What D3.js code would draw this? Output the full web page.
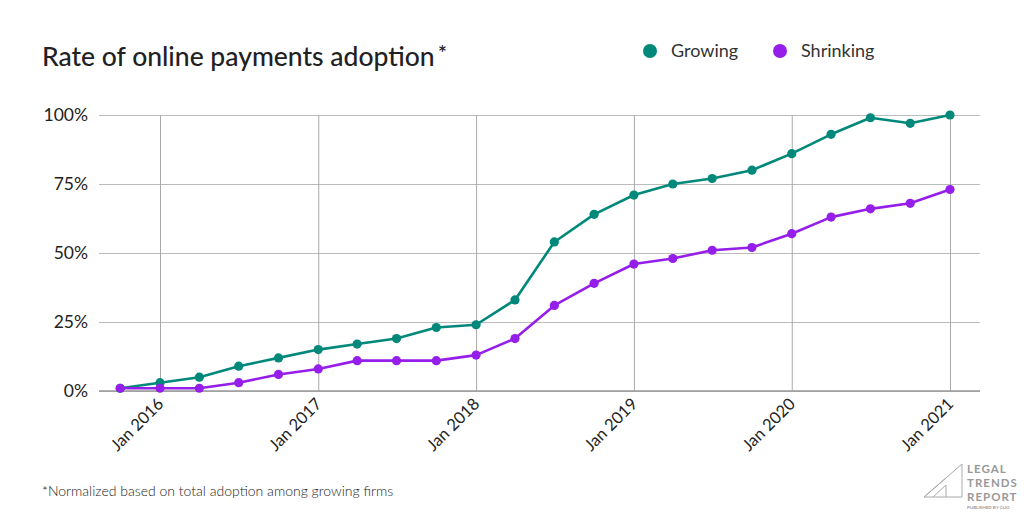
<!DOCTYPE html>
<html>
<head>
<meta charset="utf-8">
<script src="https://cdn.jsdelivr.net/npm/d3@7"></script>
<style>
  body { margin: 0; background: #fff; }
  text { font-family: Lato, "Open Sans", sans-serif; }
</style>
</head>
<body>
<script>
// quarterly data points
const periods = [
  "2015-10", "2016-01", "2016-04", "2016-07", "2016-10",
  "2017-01", "2017-04", "2017-07", "2017-10",
  "2018-01", "2018-04", "2018-07", "2018-10",
  "2019-01", "2019-04", "2019-07", "2019-10",
  "2020-01", "2020-04", "2020-07", "2020-10",
  "2021-01"
];
const growing = [1, 3, 5, 9, 12, 15, 17, 19, 23, 24, 33, 54, 64, 71, 75, 77, 80, 86, 93, 99, 97, 100];
const shrinking = [1, 1, 1, 3, 6, 8, 11, 11, 11, 13, 19, 31, 39, 46, 48, 51, 52, 57, 63, 66, 68, 73];
const yTicks = [0, 25, 50, 75, 100];
const xTickYears = [2016, 2017, 2018, 2019, 2020, 2021];

const w = 1024;
const h = 512;
const plotLeft = 99, plotRight = 980, plotTop = 115, plotBottom = 391;
const green = "#00897a";
const purple = "#951eea";

const parse = d3.timeParse("%Y-%m");
const dates = periods.map(parse);

const xScale = d3
  .scaleTime()
  .domain([new Date(2016, 0, 1), new Date(2021, 0, 1)])
  .range([160, 950]);

const yScale = d3.scaleLinear().domain([0, 100]).range([plotBottom, plotTop]);

const svg = d3
  .select("body")
  .append("svg")
  .attr("width", w)
  .attr("height", h);

// title
const title = svg.append("text")
  .attr("x", 42).attr("y", 66)
  .attr("font-size", 26.5).attr("font-weight", 500)
  .attr("fill", "#1f2124")
  .text("Rate of online payments adoption");
title.append("tspan")
  .attr("dx", 3).attr("dy", -5)
  .attr("font-size", 22)
  .text("*");

// legend
const legend = [
  { name: "Growing", color: green, x: 650 },
  { name: "Shrinking", color: purple, x: 780 }
];
legend.forEach((l) => {
  svg.append("circle").attr("cx", l.x).attr("cy", 51).attr("r", 7).attr("fill", l.color);
  svg.append("text")
    .attr("x", l.x + 21).attr("y", 57)
    .attr("font-size", 18).attr("fill", "#333")
    .text(l.name);
});

// horizontal grid + y labels
const yAxis = d3.axisLeft(yScale)
  .tickValues(yTicks)
  .tickSize(-(plotRight - plotLeft))
  .tickPadding(11)
  .tickFormat((d) => d + "%");

svg.append("g")
  .attr("transform", "translate(" + plotLeft + ",0)")
  .call(yAxis)
  .call((g) => g.select(".domain").remove())
  .call((g) => g.selectAll("line").attr("stroke", "#bbb").attr("stroke-width", 1))
  .call((g) => g.selectAll("text").attr("font-size", 17.5).attr("fill", "#222")
    .style("font-family", "Lato, sans-serif"));

// vertical grid + x labels
const xAxis = d3.axisBottom(xScale)
  .tickValues(xTickYears.map((y) => new Date(y, 0, 1)))
  .tickSize(-(plotBottom - plotTop))
  .tickFormat(d3.timeFormat("Jan %Y"));

svg.append("g")
  .attr("transform", "translate(0," + plotBottom + ")")
  .call(xAxis)
  .call((g) => g.select(".domain").remove())
  .call((g) => g.selectAll("line").attr("stroke", "#aaa").attr("stroke-width", 1))
  .call((g) => g.selectAll("text")
    .attr("font-size", 16.5).attr("fill", "#222")
    .style("font-family", "Lato, sans-serif")
    .attr("text-anchor", "end")
    .attr("dy", null)
    .attr("y", 0)
    .attr("transform", "translate(4,14) rotate(-45)"));

// baseline
svg.append("line")
  .attr("x1", plotLeft).attr("x2", plotRight)
  .attr("y1", plotBottom).attr("y2", plotBottom)
  .attr("stroke", "#999").attr("stroke-width", 1.6);

// lines & dots
const series = [
  { values: growing, color: green },
  { values: shrinking, color: purple }
];
const line = d3.line()
  .x((d, i) => xScale(dates[i]))
  .y((d) => yScale(d));

series.forEach((s) => {
  svg.append("path")
    .datum(s.values)
    .attr("fill", "none")
    .attr("stroke", s.color)
    .attr("stroke-width", 2.6)
    .attr("stroke-linejoin", "round")
    .attr("d", line);
  svg.selectAll(null)
    .data(s.values)
    .enter()
    .append("circle")
    .attr("cx", (d, i) => xScale(dates[i]))
    .attr("cy", (d) => yScale(d))
    .attr("r", 4.6)
    .attr("fill", s.color);
});

// footnote
svg.append("text")
  .attr("x", 42).attr("y", 496)
  .attr("font-size", 14).attr("font-weight", 300).attr("fill", "#222")
  .text("*Normalized based on total adoption among growing firms");

// logo
const logo = svg.append("g").attr("fill", "none").attr("stroke", "#aaa").attr("stroke-width", 1);
logo.append("path").attr("d", "M924,497 L962,464 L962,497 Z");
logo.append("path").attr("d", "M924,497 L946,478 M933,497 L946,485 L946,497");
const lt = svg.append("g").attr("fill", "#999").attr("font-weight", 700).attr("font-size", 11.5);
lt.append("text").attr("x", 967).attr("y", 473).attr("letter-spacing", 1).text("LEGAL");
lt.append("text").attr("x", 967).attr("y", 487).attr("letter-spacing", 1).text("TRENDS");
lt.append("text").attr("x", 967).attr("y", 501).attr("letter-spacing", 1).text("REPORT");
svg.append("text").attr("x", 967).attr("y", 509).attr("font-size", 4.5).attr("fill", "#999")
  .attr("font-weight", 700).text("PUBLISHED BY CLIO");
</script>
</body>
</html>
